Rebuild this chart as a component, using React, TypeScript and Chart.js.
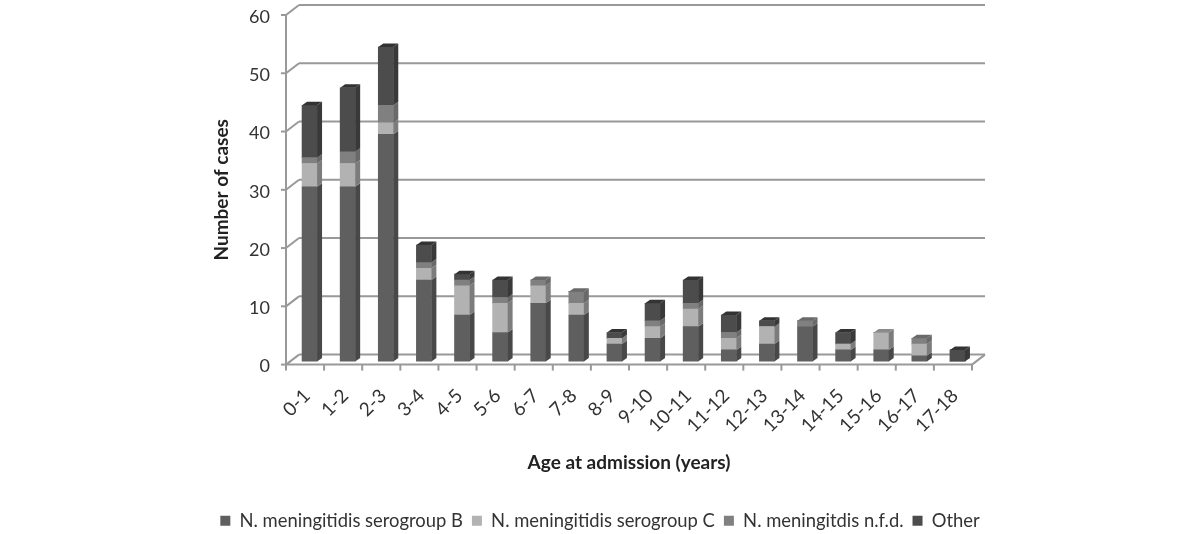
import React, { useEffect, useRef } from "react";
import { Chart, registerables } from "chart.js";

Chart.register(...registerables);

const ageGroups = ["0-1","1-2","2-3","3-4","4-5","5-6","6-7","7-8","8-9","9-10","10-11","11-12","12-13","13-14","14-15","15-16","16-17","17-18"];
const serogroupB = [30,30,39,14,8,5,10,8,3,4,6,2,3,6,2,2,1,0];
const serogroupC = [4,4,2,2,5,5,3,2,1,2,3,2,3,0,1,3,2,0];
const nfd = [1,2,3,1,1,1,1,2,0,1,1,1,0,1,0,0,1,0];
const other = [9,11,10,3,1,3,0,0,1,3,4,3,1,0,2,0,0,2];

const FRONT = ["#5f5f5f", "#b2b2b2", "#808080", "#4c4c4c"];
const SIDE = ["#484848", "#7c7c7c", "#696969", "#393939"];
const TOP = ["#4a4a4a", "#8a8a8a", "#6a6a6a", "#333333"];
const AXIS = "#999999";
const DEPTH_X = 13, DEPTH_Y = 10;
const BAR_DX = 4.5, BAR_DY = -3, BAR_DEPTH_X = 5, BAR_DEPTH_Y = 3.5;
const LEGEND_SHIFT = 6;

const poly = (ctx: CanvasRenderingContext2D, pts: number[][], fill: string) => {
  ctx.beginPath();
  pts.forEach((p, i) => (i ? ctx.lineTo(p[0], p[1]) : ctx.moveTo(p[0], p[1])));
  ctx.closePath();
  ctx.fillStyle = fill;
  ctx.fill();
};

const walls = {
  id: "walls",
  afterLayout(chart: any) {
    chart.legend.top += LEGEND_SHIFT;
    chart.legend.bottom += LEGEND_SHIFT;
  },
  beforeDatasetsDraw(chart: any) {
    const { ctx, chartArea: a, scales } = chart;
    const y = scales.y;
    ctx.save();
    ctx.strokeStyle = AXIS;
    ctx.lineWidth = 2;
    const line = (x1: number, y1: number, x2: number, y2: number) => {
      ctx.beginPath(); ctx.moveTo(x1, y1); ctx.lineTo(x2, y2); ctx.stroke();
    };
    y.ticks.forEach((t: any) => {
      const py = y.getPixelForValue(t.value);
      line(a.left - 5, py, a.left, py);
      line(a.left, py, a.left + DEPTH_X, py - DEPTH_Y);
      line(a.left + DEPTH_X, py - DEPTH_Y, a.right + DEPTH_X, py - DEPTH_Y);
    });
    line(a.left, a.top, a.left, a.bottom);
    line(a.left, a.bottom, a.right, a.bottom);
    line(a.right, a.bottom, a.right + DEPTH_X, a.bottom - DEPTH_Y);
    const step = (a.right - a.left) / ageGroups.length;
    for (let i = 0; i <= ageGroups.length; i++) {
      const px = a.left + i * step;
      line(px, a.bottom, px, a.bottom + 6);
    }
    ctx.restore();
    ctx.save();
    ctx.translate(BAR_DX, BAR_DY);
  },
  afterDatasetsDraw(chart: any) {
    const { ctx } = chart;
    chart.data.datasets.forEach((ds: any, di: number) => {
      chart.getDatasetMeta(di).data.forEach((el: any, i: number) => {
        if (!ds.data[i]) return;
        const r = el.x + el.width / 2, l = el.x - el.width / 2;
        const t = el.y, b = el.base;
        poly(ctx, [[r, t], [r + BAR_DEPTH_X, t - BAR_DEPTH_Y], [r + BAR_DEPTH_X, b - BAR_DEPTH_Y], [r, b]], SIDE[di]);
        let above = 0;
        for (let k = di + 1; k < chart.data.datasets.length; k++) above += chart.data.datasets[k].data[i];
        if (!above) {
          poly(ctx, [[l, t], [l + BAR_DEPTH_X, t - BAR_DEPTH_Y], [r + BAR_DEPTH_X, t - BAR_DEPTH_Y], [r, t]], TOP[di]);
        }
      });
    });
    ctx.restore();
  },
};

const spacerAxis = (position: string, width: number, weight: number) => ({
  position, weight, display: true,
  border: { display: false },
  grid: { display: false },
  ticks: { display: false },
  afterFit: (s: any) => { s.width = width; s.paddingTop = 0; s.paddingBottom = 0; },
});

export default function App() {
  const ref = useRef<HTMLCanvasElement>(null);
  useEffect(() => {
    const mk = (label: string, data: number[], i: number) => ({
      label, data, backgroundColor: FRONT[i], barThickness: 15, borderWidth: 0, yAxisID: "y", xAxisID: "x",
    });
    const chart = new Chart(ref.current!, {
      type: "bar",
      data: {
        labels: ageGroups,
        datasets: [
          mk("N. meningitidis serogroup B", serogroupB, 0),
          mk("N. meningitidis serogroup C", serogroupC, 1),
          mk("N. meningitdis n.f.d.", nfd, 2),
          mk("Other", other, 3),
        ],
      },
      options: {
        animation: false,
        responsive: false,
        layout: { padding: { top: 15, right: 0, bottom: 0, left: 0 } },
        plugins: {
          tooltip: { enabled: false },
          legend: {
            position: "bottom",
            labels: {
              boxWidth: 10, boxHeight: 10, padding: 9, color: "#333333",
              font: { family: "Lato", size: 18.4 },
            },
          },
        },
        scales: {
          x: {
            stacked: true,
            border: { display: false },
            grid: { display: false },
            afterFit: (s: any) => { s.height = 132; s.paddingLeft = 0; s.paddingRight = 0; },
            ticks: {
              maxRotation: 45, minRotation: 45, autoSkip: false, padding: 12, labelOffset: 2,
              color: "#333333", font: { family: "Lato", size: 19 },
            },
            title: {
              display: true, text: "Age at admission (years)", color: "#222222",
              font: { family: "Lato", size: 19, weight: "bold" }, padding: { top: 0, bottom: 22 },
            },
          },
          y: {
            stacked: true, min: 0, max: 60, weight: 0,
            border: { display: false },
            grid: { display: false },
            afterFit: (s: any) => { s.width = 76; s.paddingTop = 0; s.paddingBottom = 0; },
            ticks: {
              stepSize: 10, padding: 8, labelOffset: 2, color: "#333333",
              font: { family: "Lato", size: 18 },
            },
            title: {
              display: true, text: "Number of cases", color: "#222222",
              font: { family: "Lato", size: 19, weight: "bold" }, padding: 0,
            },
          },
          spacerLeft: spacerAxis("left", 210, 1),
          spacerRight: spacerAxis("right", 228, 0),
        },
      },
      plugins: [walls],
    } as any);
    return () => chart.destroy();
  }, []);
  return (
    <div style={{ position: "absolute", left: 0, top: 0, width: 1200, height: 534, background: "#fff" }}>
      <canvas ref={ref} width={1200} height={534} style={{ display: "block", filter: "blur(0.4px)" }} />
    </div>
  );
}
